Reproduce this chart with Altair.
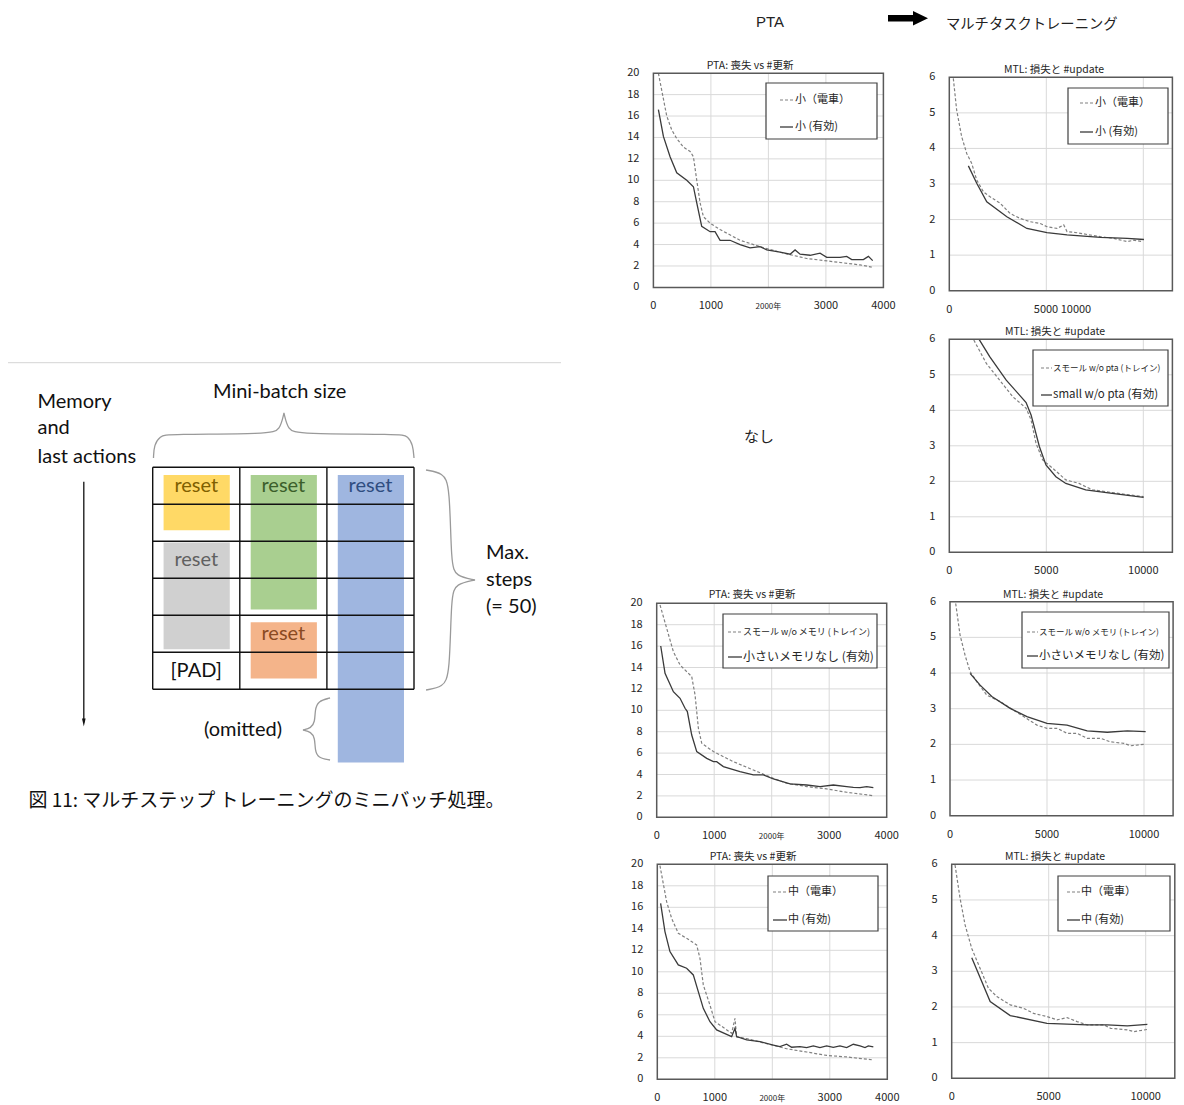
import altair as alt
import pandas as pd

M = 8  # page margin: canvas pixel = page pixel - 8
CJK = "Noto Sans CJK JP"
LAT = "Lato"
GRID = "#d9d9d9"
FRAME = "#595959"
TXT = "#262626"
TRAIN_C = "#808080"
VALID_C = "#3a3a3a"

# ====================== chart series ======================
pta_small_train_x = [87, 232, 319, 406, 522, 638, 696, 754, 812, 870, 986, 1159, 1507, 1855, 2261, 2667, 3130, 3594, 3797]
pta_small_train_y = [20.0, 16.0, 14.7, 13.9, 13.1, 12.7, 12.2, 10.0, 7.9, 6.6, 6.0, 5.4, 4.4, 3.8, 3.2, 2.7, 2.4, 2.1, 1.9]
pta_small_valid_x = [87, 174, 290, 406, 580, 696, 754, 840, 986, 1072, 1160, 1333, 1507, 1681, 1855, 1971, 2203, 2377, 2464, 2551,
                     2725, 2899, 3014, 3246, 3362, 3449, 3652, 3739, 3814]
pta_small_valid_y = [16.6, 14.1, 12.2, 10.7, 10.0, 9.4, 7.9, 5.7, 5.2, 5.2, 4.4, 4.4, 4.0, 3.7, 3.8, 3.5, 3.3, 3.1, 3.5, 3.1,
                     3.0, 3.2, 2.8, 2.8, 2.9, 2.6, 2.6, 2.9, 2.5]

mtl_small_train_x = [207, 379, 638, 897, 1155, 1414, 1759, 2103, 2621, 3138, 3655, 4172, 4690, 5034, 5552, 5897, 6069, 6586,
                     7103, 7793, 8483, 9172, 9517, 9948]
mtl_small_train_y = [5.97, 5.08, 4.33, 3.86, 3.58, 3.11, 2.78, 2.64, 2.46, 2.17, 2.03, 1.94, 1.89, 1.80, 1.75, 1.85, 1.66, 1.63,
                     1.58, 1.52, 1.47, 1.38, 1.42, 1.38]
mtl_small_valid_x = [983, 1414, 1931, 2966, 4000, 5034, 6069, 7793, 9172, 10034]
mtl_small_valid_y = [3.51, 3.02, 2.50, 2.08, 1.75, 1.63, 1.57, 1.50, 1.47, 1.44]

mtl_nopta_train_x = [1263, 1911, 2594, 3276, 3959, 4215, 4471, 4812, 5324, 6007, 6689, 7372, 8055, 9078, 10017]
mtl_nopta_train_y = [5.98, 5.32, 4.85, 4.38, 4.06, 3.73, 3.07, 2.60, 2.37, 2.04, 1.94, 1.76, 1.71, 1.63, 1.57]
mtl_nopta_valid_x = [1536, 2082, 2935, 3959, 4215, 4642, 4983, 5495, 6007, 7031, 8396, 10017]
mtl_nopta_valid_y = [6.0, 5.51, 4.85, 4.22, 3.87, 2.98, 2.46, 2.13, 1.94, 1.76, 1.66, 1.55]

pta_nomem_train_x = [58, 174, 290, 406, 533, 609, 667, 725, 783, 986, 1333, 1681, 2029, 2261, 2609, 2957, 3304, 3768]
pta_nomem_train_y = [19.84, 17.66, 15.48, 14.24, 13.55, 13.15, 11.43, 8.32, 6.92, 6.14, 5.20, 4.42, 3.64, 3.18, 2.87, 2.65,
                     2.34, 2.02]
pta_nomem_valid_x = [70, 145, 290, 406, 493, 533, 609, 696, 870, 986, 1043, 1159, 1449, 1681, 1855, 2029, 2319, 2609, 2841,
                     3072, 3304, 3420, 3536, 3652, 3768]
pta_nomem_valid_y = [16.01, 13.46, 11.74, 11.12, 10.19, 9.88, 7.69, 6.14, 5.51, 5.20, 5.20, 4.74, 4.27, 3.96, 3.96, 3.58,
                     3.12, 3.02, 2.87, 3.02, 2.87, 2.80, 2.77, 2.87, 2.77]

mtl_nomem_train_x = [293, 517, 776, 1034, 1379, 1897, 2586, 3276, 3793, 4483, 5000, 5517, 6034, 6552, 7069, 7759, 8276,
                     8966, 9310, 10000]
mtl_nomem_train_y = [5.95, 5.07, 4.50, 4.04, 3.76, 3.38, 3.20, 2.96, 2.78, 2.54, 2.45, 2.45, 2.31, 2.31, 2.17, 2.17, 2.07,
                     2.03, 1.96, 2.00]
mtl_nomem_valid_x = [1034, 1552, 2155, 3103, 3966, 5000, 6034, 7069, 8103, 9138, 10086]
mtl_nomem_valid_y = [3.99, 3.66, 3.34, 3.01, 2.78, 2.59, 2.54, 2.38, 2.34, 2.38, 2.36]

pta_med_train_x = [46, 162, 249, 365, 510, 684, 742, 800, 916, 1003, 1293, 1351, 1380, 1554, 1901, 2249, 2597, 2945, 3293, 3757]
pta_med_train_y = [19.88, 16.53, 14.98, 13.58, 13.12, 12.50, 11.26, 8.78, 6.90, 5.36, 4.28, 5.67, 3.94, 3.78, 3.32, 2.84,
                   2.54, 2.22, 2.08, 1.80]
pta_med_valid_x = [58, 133, 220, 365, 510, 626, 713, 800, 916, 1032, 1293, 1351, 1380, 1554, 1786, 2017, 2133, 2249, 2336,
                   2481, 2597, 2713, 2829, 2945, 3061, 3177, 3293, 3409, 3525, 3612, 3670, 3757]
pta_med_valid_y = [16.37, 13.74, 11.88, 10.64, 10.33, 9.71, 8.16, 6.60, 5.36, 4.59, 3.97, 4.74, 3.97, 3.66, 3.50, 3.19,
                   3.04, 3.26, 2.98, 3.04, 2.95, 3.10, 2.95, 3.10, 2.98, 3.10, 2.95, 3.26, 3.10, 2.95, 3.10, 3.01]

mtl_med_train_x = [172, 431, 690, 1034, 1466, 1897, 2328, 3017, 3707, 4224, 4914, 5431, 5948, 6466, 6983, 7845, 8190, 9052,
                   9397, 10086]
mtl_med_train_y = [5.98, 5.05, 4.30, 3.64, 3.08, 2.52, 2.29, 2.06, 1.96, 1.82, 1.73, 1.64, 1.70, 1.59, 1.50, 1.50, 1.40,
                   1.36, 1.31, 1.37]
mtl_med_valid_x = [1034, 1983, 3017, 4914, 6983, 8017, 9052, 10086]
mtl_med_valid_y = [3.38, 2.15, 1.76, 1.54, 1.50, 1.50, 1.47, 1.51]

# ====================== chart texts / ticks ======================
PTA_TITLE = "PTA: 喪失 vs #更新"
MTL_TITLE = "MTL: 損失と #update"
pta_x_ticks = [0, 1000, 2000, 3000, 4000]
pta_x_labels = ["0", "1000", "2000年", "3000", "4000"]
pta_y_ticks = [0, 2, 4, 6, 8, 10, 12, 14, 16, 18, 20]
mtl_x_ticks = [0, 5000, 10000]
mtl_x_labels = ["0", "5000", "10000"]
mtl_small_x_ticks = [0, 5835]
mtl_small_x_labels = ["0", "5000 10000"]
mtl_y_ticks = [0, 1, 2, 3, 4, 5, 6]
pta_x_grid = [1000, 2000, 3000]
pta_y_grid = [2, 4, 6, 8, 10, 12, 14, 16, 18]
mtl_x_grid = [5000, 10000]
mtl_y_grid = [1, 2, 3, 4, 5]

leg_small = ["小（電車）", "小 (有効)"]
leg_nopta = ["スモール w/o pta (トレイン)", "small w/o pta (有効)"]
leg_nomem = ["スモール w/o メモリ (トレイン)", "小さいメモリなし (有効)"]
leg_med = ["中（電車）", "中 (有効)"]

header_left = "PTA"
header_right = "マルチタスクトレーニング"
none_text = "なし"

# ====================== diagram data ======================
n_cols = 3
n_rows = 6
episodes = ["e1", "e2", "e3", "e4", "e5"]
episode_col = [0, 1, 2, 0, 1]
episode_start_row = [0, 0, 0, 2, 4]
episode_top = [0.21, 0.21, 0.21, 2.03, 4.19]
episode_bottom = [1.70, 3.84, 7.98, 4.92, 5.71]
reset_label = "reset"
pad_label = "[PAD]"
pad_col = 0
pad_row = 5
block_fill = ["#FFD966", "#A9CF90", "#9FB6E0", "#D0D0D0", "#F4B48A"]
reset_color = ["#7F6000", "#3B5E2B", "#2F4D80", "#606060", "#8A4A22"]

diag_texts = ["Memory", "and", "last actions", "Mini-batch size", "Max.", "steps", "(= 50)", "(omitted)"]
diag_text_x = [-1.323, -1.323, -1.323, 0.692, 3.827, 3.827, 3.827, 0.589]
diag_text_y = [-1.773, -1.054, -0.286, -2.027, 2.308, 3.046, 3.768, 7.10]
caption = "図 11: マルチステップ トレーニングのミニバッチ処理。"
caption_x = -1.427
caption_y = 9.02
arrow_x = -0.791
arrow_y = [0.389, 6.90]
sep_x = [-1.661, 4.688]
sep_y = -2.827

brace_top_x = [0.009, 0.015, 0.084, 0.176, 1.347, 1.461, 1.507, 1.507, 1.507, 1.553, 1.668, 2.839, 2.931, 2.988, 3.0]
brace_top_y = [-0.251, -0.603, -0.846, -0.9, -0.9, -1.008, -1.468, -1.468, -1.468, -1.008, -0.9, -0.9, -0.846, -0.603, -0.251]
brace_right_x = [3.138, 3.333, 3.413, 3.425, 3.482, 3.700, 3.700, 3.700, 3.482, 3.425, 3.413, 3.333, 3.138]
brace_right_y = [0.073, 0.154, 0.478, 2.641, 2.938, 3.046, 3.046, 3.046, 3.154, 3.451, 5.613, 5.938, 6.019]
brace_omit_x = [2.036, 1.898, 1.863, 1.863, 1.818, 1.726, 1.726, 1.726, 1.818, 1.863, 1.863, 1.898, 2.036]
brace_omit_y = [6.235, 6.316, 6.559, 6.884, 7.046, 7.100, 7.100, 7.100, 7.154, 7.316, 7.640, 7.857, 7.911]


# ====================== builders ======================
def panel(kind, train_x, train_y, valid_x, valid_y, x0, y0, y1, x_ticks, x_labels, title, title_xy,
          leg_labels, leg_box, leg_rows, leg_sample, leg_sizes):
    if kind == "pta":
        xdom, ydom = [0, 4000], [0, 20]
        x1 = x0 + 230
        xgrid, ygrid, yticks = pta_x_grid, pta_y_grid, pta_y_ticks
    else:
        xdom, ydom = [0, 11500], [0, 6]
        x1 = x0 + 11500 / 5000 * 97
        xgrid, ygrid, yticks = mtl_x_grid, mtl_y_grid, mtl_y_ticks
    xs = alt.Scale(domain=xdom, range=[x0 - M, x1 - M], nice=False, zero=False)
    ys = alt.Scale(domain=ydom, range=[y0 - M, y1 - M], nice=False, zero=False)

    def X(f):
        return alt.X(f + ":Q", scale=xs, axis=None)

    def Y(f):
        return alt.Y(f + ":Q", scale=ys, axis=None)

    L = []
    vg = pd.DataFrame({"g": xgrid, "lo": ydom[0], "hi": ydom[1]})
    L.append(alt.Chart(vg).mark_rule(color=GRID, strokeWidth=1).encode(x=X("g"), y=Y("lo"), y2=alt.Y2("hi")))
    hg = pd.DataFrame({"g": ygrid, "lo": xdom[0], "hi": xdom[1]})
    L.append(alt.Chart(hg).mark_rule(color=GRID, strokeWidth=1).encode(y=Y("g"), x=X("lo"), x2=alt.X2("hi")))
    tr = pd.DataFrame({"x": train_x, "y": train_y})
    L.append(alt.Chart(tr).mark_line(color=TRAIN_C, strokeWidth=1.2, strokeDash=[3, 2]).encode(x=X("x"), y=Y("y")))
    va = pd.DataFrame({"x": valid_x, "y": valid_y})
    L.append(alt.Chart(va).mark_line(color=VALID_C, strokeWidth=1.3).encode(x=X("x"), y=Y("y")))
    fr = pd.DataFrame({"a": [xdom[0]], "b": [xdom[1]], "c": [ydom[0]], "d": [ydom[1]]})
    L.append(alt.Chart(fr).mark_rect(fillOpacity=0, stroke=FRAME, strokeWidth=1.5).encode(
        x=X("a"), x2=alt.X2("b"), y=Y("c"), y2=alt.Y2("d")))
    yl = pd.DataFrame({"v": yticks, "lab": [str(v) for v in yticks], "x": xdom[0]})
    L.append(alt.Chart(yl).mark_text(align="right", baseline="middle", dx=-14, fontSize=11, font=CJK, color=TXT).encode(
        x=X("x"), y=Y("v"), text="lab:N"))
    big = [(v, s) for v, s in zip(x_ticks, x_labels) if not s.endswith("年")]
    small = [(v, s) for v, s in zip(x_ticks, x_labels) if s.endswith("年")]
    xl = pd.DataFrame({"v": [b[0] for b in big], "lab": [b[1] for b in big], "y": ydom[0]})
    L.append(alt.Chart(xl).mark_text(align="center", baseline="middle", dy=19, fontSize=11, font=CJK, color=TXT).encode(
        x=X("v"), y=Y("y"), text="lab:N"))
    if small:
        xs2 = pd.DataFrame({"v": [b[0] for b in small], "lab": [b[1] for b in small], "y": ydom[0]})
        L.append(alt.Chart(xs2).mark_text(align="center", baseline="middle", dy=20, fontSize=8, font=CJK, color=TXT).encode(
            x=X("v"), y=Y("y"), text="lab:N"))
    # title
    L.append(alt.Chart(pd.DataFrame({"t": [title]})).mark_text(
        align="center", baseline="middle", fontSize=10.5, font=CJK, color=TXT).encode(
        x=alt.value(title_xy[0] - M), y=alt.value(title_xy[1] - M), text="t:N"))
    # legend
    bx0, by0, bx1, by1 = leg_box
    L.append(alt.Chart(pd.DataFrame({"a": [0]})).mark_rect(fill="white", stroke="#404040", strokeWidth=1.2).encode(
        x=alt.value(bx0 - M), x2=alt.value(bx1 - M), y=alt.value(by0 - M), y2=alt.value(by1 - M)))
    sx0, sx1, tx = leg_sample
    for i, (lab, ry, fs) in enumerate(zip(leg_labels, leg_rows, leg_sizes)):
        if i == 0:
            rule = alt.Chart(pd.DataFrame({"a": [0]})).mark_rule(color=TRAIN_C, strokeWidth=1.2, strokeDash=[3, 2])
        else:
            rule = alt.Chart(pd.DataFrame({"a": [0]})).mark_rule(color=VALID_C, strokeWidth=1.3)
        L.append(rule.encode(x=alt.value(sx0 - M), x2=alt.value(sx1 - M), y=alt.value(ry - M)))
        L.append(alt.Chart(pd.DataFrame({"t": [lab]})).mark_text(
            align="left", baseline="middle", fontSize=fs, font=CJK, color=TXT).encode(
            x=alt.value(tx - M), y=alt.value(ry - M), text="t:N"))
    return alt.layer(*L)


p1 = panel("pta", pta_small_train_x, pta_small_train_y, pta_small_valid_x, pta_small_valid_y,
           653.4, 287.4, 73.2, pta_x_ticks, pta_x_labels, PTA_TITLE, (750, 66),
           leg_small, (766, 83, 877, 139), (100, 127), (780, 793, 795), (11, 11))
p2 = panel("mtl", mtl_small_train_x, mtl_small_train_y, mtl_small_valid_x, mtl_small_valid_y,
           949.3, 290.7, 77.3, mtl_small_x_ticks, mtl_small_x_labels, MTL_TITLE, (1054, 70),
           leg_small, (1068, 88, 1168, 144), (103, 132), (1080, 1093, 1095), (11, 11))
p3 = panel("mtl", mtl_nopta_train_x, mtl_nopta_train_y, mtl_nopta_valid_x, mtl_nopta_valid_y,
           949.3, 552.3, 339.3, mtl_x_ticks, mtl_x_labels, MTL_TITLE, (1055, 332),
           leg_nopta, (1033, 350, 1168, 406), (368, 395), (1041, 1052, 1053), (8.5, 11.5))
p4 = panel("pta", pta_nomem_train_x, pta_nomem_train_y, pta_nomem_valid_x, pta_nomem_valid_y,
           656.7, 817.3, 603.3, pta_x_ticks, pta_x_labels, PTA_TITLE, (752, 595),
           leg_nomem, (723, 614, 877, 668), (632, 657), (728, 742, 743), (9, 12))
p5 = panel("mtl", mtl_nomem_train_x, mtl_nomem_train_y, mtl_nomem_valid_x, mtl_nomem_valid_y,
           950.0, 815.7, 601.7, mtl_x_ticks, mtl_x_labels, MTL_TITLE, (1053, 595),
           leg_nomem, (1022, 612, 1169, 668), (632, 656), (1027, 1038, 1039), (8.5, 11.5))
p6 = panel("pta", pta_med_train_x, pta_med_train_y, pta_med_valid_x, pta_med_valid_y,
           657.3, 1079.3, 864.3, pta_x_ticks, pta_x_labels, PTA_TITLE, (753, 857),
           leg_med, (768, 876, 878, 931), (892, 920), (773, 787, 788), (11, 11))
p7 = panel("mtl", mtl_med_train_x, mtl_med_train_y, mtl_med_valid_x, mtl_med_valid_y,
           951.7, 1078.3, 864.3, mtl_x_ticks, mtl_x_labels, MTL_TITLE, (1055, 857),
           leg_med, (1058, 876, 1170, 931), (892, 920), (1067, 1080, 1081), (11, 11))

# ---------------- diagram ----------------
dxs = alt.Scale(domain=[0, n_cols], range=[152.7 - M, 414.0 - M], nice=False, zero=False)
dys = alt.Scale(domain=[0, n_rows], range=[467.3 - M, 689.3 - M], nice=False, zero=False)


def DX(f):
    return alt.X(f + ":Q", scale=dxs, axis=None)


def DY(f):
    return alt.Y(f + ":Q", scale=dys, axis=None)


fill_scale = alt.Scale(domain=episodes, range=block_fill)
text_scale = alt.Scale(domain=episodes, range=reset_color)

blocks = pd.DataFrame({"ep": episodes, "col": episode_col, "top": episode_top, "bottom": episode_bottom})
blocks["x0"] = blocks["col"] + 0.125
blocks["x1"] = blocks["col"] + 0.885
D = []
D.append(alt.Chart(pd.DataFrame({"x0": [sep_x[0]], "x1": [sep_x[1]], "y": [sep_y]})).mark_rule(
    color="#d4d4d4", strokeWidth=1).encode(x=DX("x0"), x2=alt.X2("x1"), y=DY("y")))
D.append(alt.Chart(blocks).mark_rect().encode(
    x=DX("x0"), x2=alt.X2("x1"), y=DY("top"), y2=alt.Y2("bottom"),
    fill=alt.Fill("ep:N", scale=fill_scale, legend=None)))
hl = pd.DataFrame({"r": list(range(n_rows + 1)), "a": 0, "b": n_cols})
D.append(alt.Chart(hl).mark_rule(color="#111111", strokeWidth=1.4).encode(y=DY("r"), x=DX("a"), x2=alt.X2("b")))
vl = pd.DataFrame({"c": list(range(n_cols + 1)), "a": 0, "b": n_rows})
D.append(alt.Chart(vl).mark_rule(color="#111111", strokeWidth=1.4).encode(x=DX("c"), y=DY("a"), y2=alt.Y2("b")))
resets = pd.DataFrame({"ep": episodes, "col": episode_col, "row": episode_start_row})
resets["cx"] = resets["col"] + 0.5
resets["cy"] = resets["row"] + 0.5
resets["lab"] = reset_label
D.append(alt.Chart(resets).mark_text(fontSize=20, font=LAT, baseline="middle", align="center").encode(
    x=DX("cx"), y=DY("cy"), text="lab:N", color=alt.Color("ep:N", scale=text_scale, legend=None)))
pad = pd.DataFrame({"cx": [pad_col + 0.5], "cy": [pad_row + 0.5], "lab": [pad_label]})
D.append(alt.Chart(pad).mark_text(fontSize=20, font=LAT, baseline="middle", align="center", color="#111111").encode(
    x=DX("cx"), y=DY("cy"), text="lab:N"))
ann = pd.DataFrame({"t": diag_texts, "x": diag_text_x, "y": diag_text_y})
D.append(alt.Chart(ann).mark_text(fontSize=20, font=LAT, baseline="middle", align="left", color="#111111").encode(
    x=DX("x"), y=DY("y"), text="t:N"))
cap = pd.DataFrame({"t": [caption], "x": [caption_x], "y": [caption_y]})
D.append(alt.Chart(cap).mark_text(fontSize=19, font=CJK, baseline="middle", align="left", color="#111111").encode(
    x=DX("x"), y=DY("y"), text="t:N"))
arr = pd.DataFrame({"x": [arrow_x], "y0": [arrow_y[0]], "y1": [arrow_y[1]]})
D.append(alt.Chart(arr).mark_rule(color="#111111", strokeWidth=1.3).encode(x=DX("x"), y=DY("y0"), y2=alt.Y2("y1")))
D.append(alt.Chart(arr).mark_point(shape="M-0.45,-1L0.45,-1L0,1Z", filled=True, size=64, color="#111111", opacity=1).encode(
    x=DX("x"), y=DY("y1")))
braces = pd.concat([
    pd.DataFrame({"b": "top", "i": range(len(brace_top_x)), "x": brace_top_x, "y": brace_top_y}),
    pd.DataFrame({"b": "right", "i": range(len(brace_right_x)), "x": brace_right_x, "y": brace_right_y}),
    pd.DataFrame({"b": "omit", "i": range(len(brace_omit_x)), "x": brace_omit_x, "y": brace_omit_y}),
])
D.append(alt.Chart(braces).mark_line(interpolate="basis", color="#9a9a9a", strokeWidth=1.3).encode(
    x=DX("x"), y=DY("y"), detail="b:N", order="i:Q"))
diagram = alt.layer(*D)

# ---------------- header annotations ----------------
H = [
    alt.Chart(pd.DataFrame({"t": [header_left]})).mark_text(fontSize=15, font="Liberation Sans", color="#222222",
                                                          align="center", baseline="middle").encode(
        x=alt.value(770 - M), y=alt.value(22 - M), text="t:N"),
    alt.Chart(pd.DataFrame({"t": [header_right]})).mark_text(fontSize=14.3, font=CJK, color="#222222",
                                                           align="left", baseline="middle").encode(
        x=alt.value(946 - M), y=alt.value(25 - M), text="t:N"),
    alt.Chart(pd.DataFrame({"t": [none_text]})).mark_text(fontSize=15, font=CJK, color="#222222",
                                                        align="center", baseline="middle").encode(
        x=alt.value(759 - M), y=alt.value(437 - M), text="t:N"),
    alt.Chart(pd.DataFrame({"a": [0]})).mark_point(
        shape="M-1,-0.16L0.25,-0.16L0.25,-0.36L1,0L0.25,0.36L0.25,0.16L-1,0.16Z", filled=True, size=1600,
        color="#000000", opacity=1).encode(x=alt.value(908 - M), y=alt.value(18.3 - M)),
]
header = alt.layer(*H)

chart = alt.layer(diagram, p1, p2, p3, p4, p5, p6, p7, header).resolve_scale(
    x="independent", y="independent", fill="independent", color="independent"
).properties(
    width=1168, height=1097, padding=0, autosize=alt.AutoSizeParams(type="none"), background="white"
).configure_view(stroke=None)

chart.save("out.html", embed_options={"renderer": "svg", "actions": False})
